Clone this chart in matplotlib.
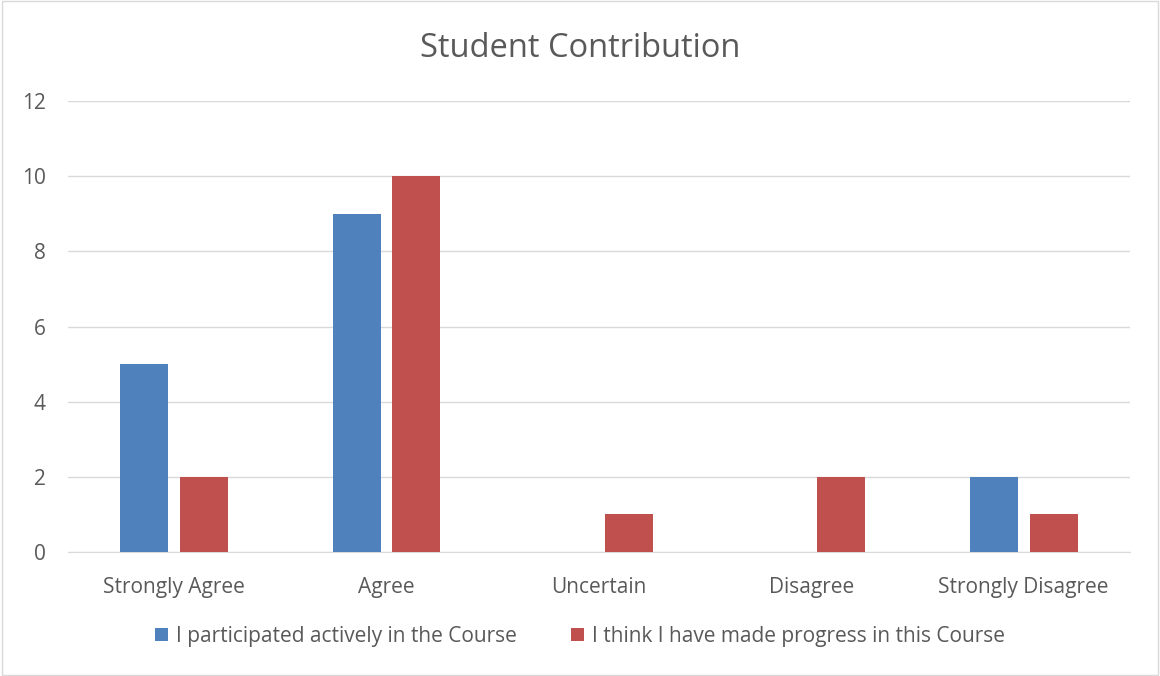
import matplotlib.pyplot as plt
import numpy as np
from matplotlib.patches import Rectangle

categories = ["Strongly Agree", "Agree", "Uncertain", "Disagree", "Strongly Disagree"]
participated = [5, 9, 0, 0, 2]
progress = [2, 10, 1, 2, 1]
series_names = ["I participated actively in the Course",
                "I think I have made progress in this Course"]

plt.rcParams['font.family'] = ['Open Sans', 'DejaVu Sans']
text_color = "#595959"

fig = plt.figure(figsize=(11.6, 6.76), dpi=100)
fig.patches.append(Rectangle((0.002, 0.002), 0.996, 0.996, transform=fig.transFigure,
                             fill=False, edgecolor="#D9D9D9", linewidth=1))
ax = fig.add_axes([0.0586, 0.1834, 0.9154, 0.6672])

x = np.arange(len(categories))
w = 0.226
ax.bar(x - 0.141, participated, w, color="#4F81BD", label=series_names[0], zorder=3)
ax.bar(x + 0.141, progress, w, color="#C0504D", label=series_names[1], zorder=3)

ax.set_xlim(-0.5, len(categories) - 0.5)
ax.set_ylim(0, 12)
ax.set_yticks(range(0, 13, 2))
ax.set_xticks(x)
ax.set_xticklabels(categories)
ax.yaxis.grid(True, color="#D9D9D9", linewidth=1, zorder=0)
for s in ["top", "right", "left"]:
    ax.spines[s].set_visible(False)
ax.spines["bottom"].set_color("#D9D9D9")
ax.tick_params(axis="both", length=0, labelsize=15, colors=text_color)
ax.tick_params(axis="x", pad=18)
ax.tick_params(axis="y", pad=16)

fig.text(0.5, 0.928, "Student Contribution", ha="center", va="center",
         fontsize=23.5, color=text_color)

fig.legend(loc="center", bbox_to_anchor=(0.5, 0.059), ncol=2, frameon=False,
           fontsize=15, labelcolor=text_color, handlelength=0.6, handleheight=0.6,
           handletextpad=0.4, columnspacing=2.6)

fig.savefig("out.png", dpi=100)
